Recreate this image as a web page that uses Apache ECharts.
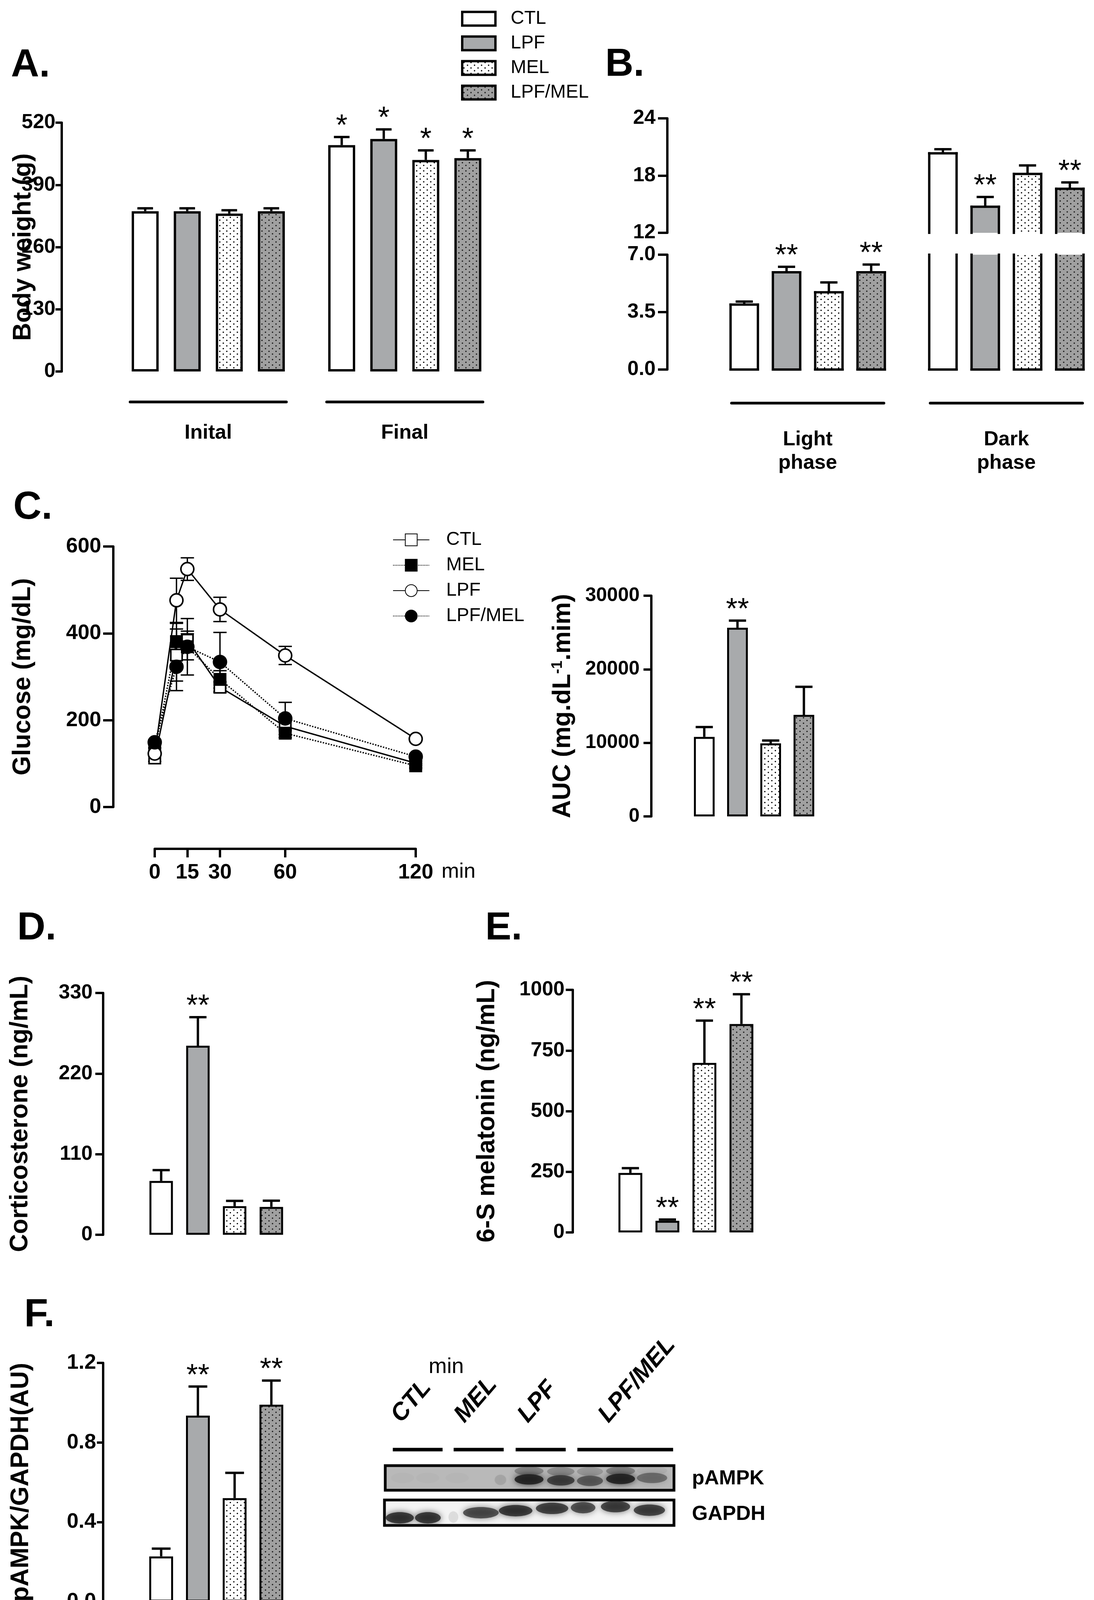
<!DOCTYPE html>
<html>
<head>
<meta charset="utf-8">
<script src="https://cdn.jsdelivr.net/npm/echarts@6/dist/echarts.min.js"></script>
<style>
html, body { margin: 0; padding: 0; background: #fff; }
#main { width: 2800px; height: 4141px; }
</style>
</head>
<body>
<div id="main"></div>
<script>
var FONT = '"Liberation Sans", Arial, Helvetica, sans-serif';
var groups = ['CTL', 'LPF', 'MEL', 'LPF/MEL'];

// A. body weight (g)  -- order: CTL, LPF, MEL, LPF/MEL
var weightCats = ['Inital', 'Final'];
var weightTicks = [0, 130, 260, 390, 520];
var weightInitial = [335, 335, 330, 335];
var weightInitialErr = [6, 6, 7, 6];
var weightFinal = [473, 486, 442, 446];
var weightFinalErr = [17, 20, 20, 16];
var weightStars = [['', '', '', ''], ['*', '*', '*', '*']];

// B. intake, broken axis
var phaseCats = ['Light\nphase', 'Dark\nphase'];
var intakeTicksLow = [0, 3.5, 7];
var intakeTicksHigh = [12, 18, 24];
var intakeLight = [3.96, 5.93, 4.71, 5.93];
var intakeLightErr = [0.18, 0.33, 0.6, 0.47];
var intakeDark = [20.33, 14.73, 18.17, 16.62];
var intakeDarkErr = [0.43, 1.03, 0.89, 0.66];
var intakeStars = [['', '**', '', '**'], ['', '**', '', '**']];

// C. glucose tolerance
var gttTimes = [0, 10, 15, 30, 60, 120];
var gttTimeTicks = [0, 15, 30, 60, 120];
var glucoseTicks = [0, 200, 400, 600];
var glucoseCTL = [113, 350, 384, 276, 186, 101];
var glucoseCTLErr = [8, 60, 21, 12, 10, 5];
var glucoseMEL = [130, 381, 369, 294, 170, 95];
var glucoseMELErr = [6, 42, 30, 20, 10, 5];
var glucoseLPF = [123, 476, 548, 455, 349, 157];
var glucoseLPFErr = [6, 51, 26, 28, 21, 5];
var glucoseLPFMEL = [149, 323, 369, 334, 204, 116];
var glucoseLPFMELErr = [6, 55, 65, 68, 37, 6];

var aucTicks = [0, 10000, 20000, 30000];
var aucMean = [10800, 25650, 9930, 13800];
var aucErr = [1350, 970, 380, 3810];
var aucStars = ['', '**', '', ''];

// D. corticosterone
var corticoTicks = [0, 110, 220, 330];
var corticoMean = [73.5, 258, 39, 38];
var corticoErr = [14.7, 39, 7.3, 8.5];
var corticoStars = ['', '**', '', ''];

// E. 6-S melatonin
var melatoninTicks = [0, 250, 500, 750, 1000];
var melatoninMean = [245, 48, 699, 859];
var melatoninErr = [20, 5, 174, 123];
var melatoninStars = ['', '**', '**', '**'];

// F. pAMPK/GAPDH
var ampkTicks = [0, 0.4, 0.8, 1.2];
var ampkMean = [0.227, 0.935, 0.52, 0.99];
var ampkErr = [0.039, 0.146, 0.127, 0.121];
var ampkStars = ['', '**', '', '**'];

// western blot (x in % of membrane width, y in fraction of strip height)
var blotGroups = ['CTL', 'MEL', 'LPF', 'LPF/MEL'];
var blotGroupFrom = [3.0, 23.9, 45.2, 66.4];
var blotGroupTo = [20.1, 41.1, 62.4, 99.3];
var blotLabelAt = [7.3, 29.0, 50.8, 78.5];
var pampkLane = [6, 14.7, 24.9, 39.9, 49.8, 60.8, 70.9, 81.5, 92.4];
var pampkWidth = [8, 8, 8, 4, 10, 9.5, 9, 10, 10.5];
var pampkY = [0.5, 0.5, 0.5, 0.42, 0.44, 0.4, 0.38, 0.46, 0.5];
var pampkInt = [0.03, 0.03, 0.03, 0.14, 1, 0.8, 0.62, 1, 0.5];
var pampkSmearY = [0.8, 0.8, 0.8, 0.8, 0.78, 0.76, 0.76, 0.78, 0.8];
var pampkSmear = [0, 0, 0, 0, 0.35, 0.3, 0.22, 0.38, 0.06];
var gapdhLane = [5.3, 15.0, 23.8, 33.3, 45.3, 57.9, 68.6, 79.8, 91.5];
var gapdhWidth = [9.7, 8.9, 3.4, 12.3, 11.6, 11.2, 8.5, 10.1, 10.8];
var gapdhY = [0.3, 0.3, 0.33, 0.5, 0.58, 0.67, 0.7, 0.74, 0.6];
var gapdhInt = [0.9, 0.9, 0.12, 0.78, 0.9, 0.85, 0.78, 0.85, 0.85];

function dotPattern(bg, dot) {
  var c = document.createElement('canvas');
  c.width = 18; c.height = 14;
  var g = c.getContext('2d');
  g.fillStyle = bg; g.fillRect(0, 0, 18, 14);
  g.fillStyle = dot;
  [[4.5, 3.5], [13.5, 10.5]].forEach(function (p) {
    g.beginPath(); g.arc(p[0], p[1], 1.8, 0, 2 * Math.PI); g.fill();
  });
  return { image: c, repeat: 'repeat' };
}
var fills = ['#ffffff', '#a8aaac', dotPattern('#ffffff', '#000'), dotPattern('#a0a0a0', '#1a1a1a')];

var myChart = echarts.init(document.getElementById('main'));

function plainNumber(v) { return String(v); }

function grid(left, top, width, height, extra) {
  var g = { left: left, top: top, width: width, height: height, containLabel: false, outerBoundsMode: 'none' };
  return Object.assign(g, extra || {});
}

function tickLabel(fontSize, margin, formatter) {
  return { color: '#000', fontSize: fontSize, fontWeight: 'bold', fontFamily: FONT, margin: margin, formatter: formatter || plainNumber };
}

function valueAxis(gi, ticks, offset, tickLen, margin, fontSize, extra) {
  var ax = {
    type: 'value', gridIndex: gi,
    min: ticks[0], max: ticks[ticks.length - 1], interval: ticks[1] - ticks[0],
    offset: offset,
    axisLine: { show: true, onZero: false, lineStyle: { color: '#000', width: 6 } },
    axisTick: { show: true, length: tickLen, lineStyle: { color: '#000', width: 6 } },
    axisLabel: tickLabel(fontSize, margin),
    splitLine: { show: false },
    nameMoveOverlap: false,
    nameTextStyle: { color: '#000', fontSize: 64, fontWeight: 'bold', fontFamily: FONT }
  };
  return Object.assign(ax, extra || {});
}

function hiddenAxis(gi, type, extra) {
  return Object.assign({ type: type, gridIndex: gi, show: false, splitLine: { show: false } }, extra || {});
}

function catAxis(gi, cats, label) {
  return {
    type: 'category', gridIndex: gi, data: cats,
    axisLine: { show: false, onZero: false }, axisTick: { show: false }, splitLine: { show: false },
    axisLabel: label || { show: false }
  };
}

function errorSeries(gi, items, n, pitch, cap, lw, twoSided) {
  return {
    type: 'custom', xAxisIndex: gi, yAxisIndex: gi, z: 3, silent: true,
    data: items.map(function (it) { return [it[0], it[1]]; }),
    renderItem: function (params, api) {
      var it = items[params.dataIndex];
      var p0 = api.coord([it[0], it[1]]);
      var p1 = api.coord([it[0], it[1] + it[2]]);
      var x = p0[0] + (it[3] - (n - 1) / 2) * pitch;
      function st() { return { stroke: '#000', lineWidth: lw }; }
      var kids = [
        { type: 'line', shape: { x1: x, y1: p0[1], x2: x, y2: p1[1] }, style: st() },
        { type: 'line', shape: { x1: x - cap, y1: p1[1], x2: x + cap, y2: p1[1] }, style: st() }
      ];
      if (twoSided) {
        var p2 = api.coord([it[0], it[1] - it[2]]);
        kids.push({ type: 'line', shape: { x1: x, y1: p0[1], x2: x, y2: p2[1] }, style: st() });
        kids.push({ type: 'line', shape: { x1: x - cap, y1: p2[1], x2: x + cap, y2: p2[1] }, style: st() });
      }
      if (it[4]) {
        kids.push({ type: 'text', style: { text: it[4], x: x, y: p1[1] - 27, fill: '#000',
          font: '76px ' + FONT, align: 'center', verticalAlign: 'middle' } });
      }
      return { type: 'group', children: kids };
    }
  };
}

// bars of the broken axis: clipped to their grid, no outline on the cut side
function brokenBars(gi, items, pitch, width) {
  return {
    type: 'custom', xAxisIndex: gi, yAxisIndex: gi, z: 2, silent: true,
    data: items.map(function (it) { return [it[0], it[1]]; }),
    renderItem: function (params, api) {
      var it = items[params.dataIndex];
      var cs = params.coordSys;
      var pb = api.coord([it[0], 0]), pt = api.coord([it[0], it[1]]);
      var x0 = pb[0] + (it[2] - 1.5) * pitch - width / 2, x1 = x0 + width;
      var top = Math.max(pt[1], cs.y), bot = Math.min(pb[1], cs.y + cs.height);
      if (bot <= top) return null;
      function st() { return { stroke: '#000', lineWidth: 6, lineCap: 'square' }; }
      var kids = [
        { type: 'rect', shape: { x: x0, y: top, width: width, height: bot - top }, style: { fill: fills[it[2]] } },
        { type: 'line', shape: { x1: x0, y1: top, x2: x0, y2: bot }, style: st() },
        { type: 'line', shape: { x1: x1, y1: top, x2: x1, y2: bot }, style: st() }
      ];
      if (pt[1] >= cs.y) kids.push({ type: 'line', shape: { x1: x0, y1: top, x2: x1, y2: top }, style: st() });
      if (pb[1] <= cs.y + cs.height) kids.push({ type: 'line', shape: { x1: x0, y1: bot, x2: x1, y2: bot }, style: st() });
      return { type: 'group', children: kids };
    }
  };
}

function groupLines(gi, ncat, half, off) {
  var d = [];
  for (var i = 0; i < ncat; i++) d.push([i, 0]);
  return {
    type: 'custom', xAxisIndex: gi, yAxisIndex: gi, silent: true, data: d,
    renderItem: function (params, api) {
      var c = api.coord([api.value(0), 0]);
      return { type: 'line', shape: { x1: c[0] - half, y1: c[1] + off, x2: c[0] + half, y2: c[1] + off },
        style: { stroke: '#000', lineWidth: 7, lineCap: 'round' } };
    }
  };
}

function simpleBars(gi, means, width) {
  return {
    type: 'bar', xAxisIndex: gi, yAxisIndex: gi, barWidth: width, silent: true, z: 2,
    itemStyle: { borderColor: '#000', borderWidth: 5 },
    data: means.map(function (v, i) { return { value: v, itemStyle: { color: fills[i] } }; })
  };
}

function simpleErrors(gi, means, errs, stars, cap) {
  return errorSeries(gi, means.map(function (v, i) { return [i, v, errs[i], 0, stars[i]]; }), 1, 0, cap, 6, false);
}

// soft blot band: ellipse core plus a wide blurred shadow
function bandSeries(gi, xs, ys, ws, h, ints, blur) {
  return {
    type: 'custom', xAxisIndex: gi, yAxisIndex: gi, silent: true, clip: true,
    data: xs.map(function (x, i) { return [x, ys[i], ws[i], h, ints[i]]; }),
    renderItem: function (params, api) {
      var c = api.coord([api.value(0), api.value(1)]);
      var s = api.size([api.value(2), api.value(3)]);
      var a = api.value(4);
      if (!(a > 0)) return null;
      var col = function (k) { return 'rgba(28,28,28,' + Math.min(1, a * k).toFixed(3) + ')'; };
      return { type: 'ellipse', shape: { cx: c[0], cy: c[1], rx: s[0] / 2, ry: s[1] / 2 },
        style: { fill: col(0.85), shadowBlur: blur, shadowColor: col(1) } };
    }
  };
}

var series = [];

// A
groups.forEach(function (g, k) {
  series.push({
    type: 'bar', name: g, xAxisIndex: 0, yAxisIndex: 0, z: 2, silent: true,
    barWidth: 69, barGap: '56%',
    data: [weightInitial[k], weightFinal[k]],
    itemStyle: { color: fills[k], borderColor: '#000', borderWidth: 6 }
  });
});
var weightItems = [];
groups.forEach(function (g, k) {
  weightItems.push([0, weightInitial[k], weightInitialErr[k], k, weightStars[0][k]]);
  weightItems.push([1, weightFinal[k], weightFinalErr[k], k, weightStars[1][k]]);
});
series.push(errorSeries(0, weightItems, 4, 107.6, 20, 6, false));
series.push(groupLines(0, 2, 200, 78));

// B
var intakeBars = [], intakeLow = [], intakeHigh = [];
groups.forEach(function (g, k) {
  intakeBars.push([0, intakeLight[k], k]);
  intakeBars.push([1, intakeDark[k], k]);
  intakeLow.push([0, intakeLight[k], intakeLightErr[k], k, intakeStars[0][k]]);
  intakeHigh.push([1, intakeDark[k], intakeDarkErr[k], k, intakeStars[1][k]]);
});
series.push(brokenBars(1, intakeBars, 108.3, 70));
series.push(brokenBars(2, intakeBars, 108.3, 70));
series.push(errorSeries(1, intakeHigh, 4, 108.3, 22, 6, false));
series.push(errorSeries(2, intakeLow, 4, 108.3, 22, 6, false));
series.push(groupLines(2, 2, 195, 86));

// C glucose curves
function gttLine(name, vals, symbol, fill, dotted) {
  return {
    type: 'line', name: 'gtt-' + name, xAxisIndex: 3, yAxisIndex: 3, z: 4, silent: true,
    data: gttTimes.map(function (t, i) { return [t, vals[i]]; }),
    symbol: symbol, symbolSize: symbol === 'rect' ? 29 : 33,
    itemStyle: { color: fill, borderColor: '#000', borderWidth: 4 },
    lineStyle: { color: '#000', width: 3.5, type: dotted ? 'dotted' : 'solid' }
  };
}
series.push(gttLine('CTL', glucoseCTL, 'rect', '#fff', false));
series.push(gttLine('MEL', glucoseMEL, 'rect', '#000', true));
series.push(gttLine('LPF', glucoseLPF, 'circle', '#fff', false));
series.push(gttLine('LPF/MEL', glucoseLPFMEL, 'circle', '#000', true));
var gttItems = [];
[[glucoseCTL, glucoseCTLErr], [glucoseMEL, glucoseMELErr], [glucoseLPF, glucoseLPFErr], [glucoseLPFMEL, glucoseLPFMELErr]]
  .forEach(function (s) {
    gttTimes.forEach(function (t, i) { gttItems.push([t, s[0][i], s[1][i], 0, '']); });
  });
series.push(errorSeries(3, gttItems, 1, 0, 17, 3.5, true));

// C AUC, D, E, F
series.push(simpleBars(4, aucMean, 53));
series.push(simpleErrors(4, aucMean, aucErr, aucStars, 22));
series.push(simpleBars(5, corticoMean, 60));
series.push(simpleErrors(5, corticoMean, corticoErr, corticoStars, 22));
series.push(simpleBars(6, melatoninMean, 61));
series.push(simpleErrors(6, melatoninMean, melatoninErr, melatoninStars, 22));
series.push(simpleBars(7, ampkMean, 61));
series.push(simpleErrors(7, ampkMean, ampkErr, ampkStars, 24));

// blot header, bands
series.push({
  type: 'custom', xAxisIndex: 8, yAxisIndex: 8, silent: true,
  data: blotGroups.map(function (g, i) { return [blotGroupFrom[i], 0]; }),
  renderItem: function (params, api) {
    var i = params.dataIndex;
    var a = api.coord([blotGroupFrom[i], 0]), b = api.coord([blotGroupTo[i], 0]);
    var t = api.coord([blotLabelAt[i], 0.22]);
    return { type: 'group', children: [
      { type: 'line', shape: { x1: a[0], y1: a[1], x2: b[0], y2: b[1] }, style: { stroke: '#000', lineWidth: 9 } },
      { type: 'text', x: t[0], y: t[1], rotation: 0.86,
        style: { text: blotGroups[i], x: 0, y: 0, fill: '#000', font: 'italic bold 62px ' + FONT, align: 'left', verticalAlign: 'bottom' } }
    ] };
  }
});
series.push(bandSeries(9, pampkLane, pampkSmearY, pampkWidth, 0.36, pampkSmear, 18));
series.push(bandSeries(9, pampkLane, pampkY, pampkWidth, 0.42, pampkInt, 16));
series.push(bandSeries(10, gapdhLane, gapdhY, gapdhWidth, 0.45, gapdhInt, 16));

function panelLetter(t, x, y) {
  return { type: 'text', x: x, y: y, style: { text: t, fill: '#000', font: 'bold 100px ' + FONT, verticalAlign: 'middle' } };
}
function plainText(t, x, y, font) {
  return { type: 'text', x: x, y: y, style: { text: t, fill: '#000', font: font + ' ' + FONT, verticalAlign: 'middle' } };
}

var option = {
  backgroundColor: '#fff',
  animation: false,
  textStyle: { fontFamily: FONT },
  grid: [
    grid(281.5, 314, 1006, 637),
    grid(1813, 303, 1017, 293),
    grid(1813, 652, 1017, 294),
    grid(396, 1399, 668, 667),
    grid(1760, 1525, 340, 565),
    grid(365.5, 2542, 376, 619),
    grid(1566, 2534, 379, 621),
    grid(365.5, 3489, 376, 611),
    grid(983, 3450, 745, 261),
    grid(986, 3752, 739, 63, { show: true, backgroundColor: '#b9b9b9', borderColor: '#000', borderWidth: 7 }),
    grid(984, 3840, 741, 65, { show: true, backgroundColor: '#f4f4f4', borderColor: '#000', borderWidth: 7 })
  ],
  xAxis: [
    catAxis(0, weightCats, { show: true, interval: 0, margin: 132, color: '#000', fontSize: 52, fontWeight: 'bold', fontFamily: FONT }),
    catAxis(1, phaseCats),
    catAxis(2, phaseCats, { show: true, interval: 0, margin: 150, lineHeight: 60, color: '#000', fontSize: 52, fontWeight: 'bold', fontFamily: FONT }),
    {
      type: 'value', gridIndex: 3, min: 0, max: 120, offset: 107,
      axisLine: { show: true, onZero: false, lineStyle: { color: '#000', width: 6 } },
      axisTick: { show: true, length: 22, customValues: gttTimeTicks, lineStyle: { color: '#000', width: 6 } },
      axisLabel: Object.assign(tickLabel(54, 34), { customValues: gttTimeTicks }),
      splitLine: { show: false }
    },
    catAxis(4, groups),
    catAxis(5, groups),
    catAxis(6, groups),
    catAxis(7, groups),
    hiddenAxis(8, 'value', { min: 0, max: 100 }),
    hiddenAxis(9, 'value', { min: 0, max: 100 }),
    hiddenAxis(10, 'value', { min: 0, max: 100 })
  ],
  yAxis: [
    valueAxis(0, weightTicks, 123.5, 16, 16, 52, { name: 'Body weight (g)', nameLocation: 'middle', nameGap: 66 }),
    valueAxis(1, intakeTicksHigh, 105, 24, 30, 52),
    valueAxis(2, intakeTicksLow, 105, 24, 30, 52, { axisLabel: tickLabel(52, 30, function (v) { return v.toFixed(1); }) }),
    valueAxis(3, glucoseTicks, 106, 26, 31, 54, { name: 'Glucose (mg/dL)', nameLocation: 'middle', nameGap: 199 }),
    valueAxis(4, aucTicks, 93, 20, 30, 50, {
      name: 'AUC (mg.dL{sup|-1}.mim)', nameLocation: 'middle', nameGap: 194,
      nameTextStyle: { color: '#000', fontSize: 64, fontWeight: 'bold', fontFamily: FONT,
        rich: { sup: { fontSize: 38, fontWeight: 'bold', fontFamily: FONT, color: '#000', verticalAlign: 'top', padding: [0, 0, 24, 0] } } }
    }),
    valueAxis(5, corticoTicks, 101.5, 20, 27, 52, { name: 'Corticosterone (ng/mL)', nameLocation: 'middle', nameGap: 180 }),
    valueAxis(6, melatoninTicks, 100, 18, 21, 52, { name: '6-S melatonin (ng/mL)', nameLocation: 'middle', nameGap: 187 }),
    valueAxis(7, ampkTicks, 101.5, 16, 18, 54, { name: 'pAMPK/GAPDH(AU)', nameLocation: 'middle', nameGap: 178,
      axisLabel: tickLabel(54, 18, function (v) { return v.toFixed(1); }) }),
    hiddenAxis(8, 'value', { min: 0, max: 1 }),
    hiddenAxis(9, 'value', { min: 0, max: 1 }),
    hiddenAxis(10, 'value', { min: 0, max: 1 })
  ],
  legend: [
    {
      orient: 'vertical', left: 1180, top: 24, padding: 0, selectedMode: false,
      icon: 'rect', itemWidth: 85, itemHeight: 35, itemGap: 15,
      data: groups,
      itemStyle: { borderColor: '#000', borderWidth: 6 },
      textStyle: { color: '#000', fontSize: 48, fontFamily: FONT, padding: [0, 0, 0, 34] }
    },
    {
      orient: 'vertical', left: 1005, top: 1358, padding: 0, selectedMode: false,
      itemWidth: 93, itemHeight: 38, itemGap: 17,
      data: ['gtt-CTL', 'gtt-MEL', 'gtt-LPF', 'gtt-LPF/MEL'],
      formatter: function (n) { return n.replace('gtt-', ''); },
      textStyle: { color: '#000', fontSize: 48, fontFamily: FONT, padding: [0, 0, 0, 38] }
    }
  ],
  graphic: [
    panelLetter('A.', 28, 168),
    panelLetter('B.', 1549, 166),
    panelLetter('C.', 34, 1300),
    panelLetter('D.', 44, 2377),
    panelLetter('E.', 1242, 2377),
    panelLetter('F.', 62, 3367),
    plainText('min', 1130, 2232, '54px'),
    plainText('min', 1097, 3500, '56px'),
    plainText('pAMPK', 1771, 3786, 'bold 52px'),
    plainText('GAPDH', 1771, 3877, 'bold 52px')
  ],
  series: series
};

myChart.setOption(option);
</script>
</body>
</html>
